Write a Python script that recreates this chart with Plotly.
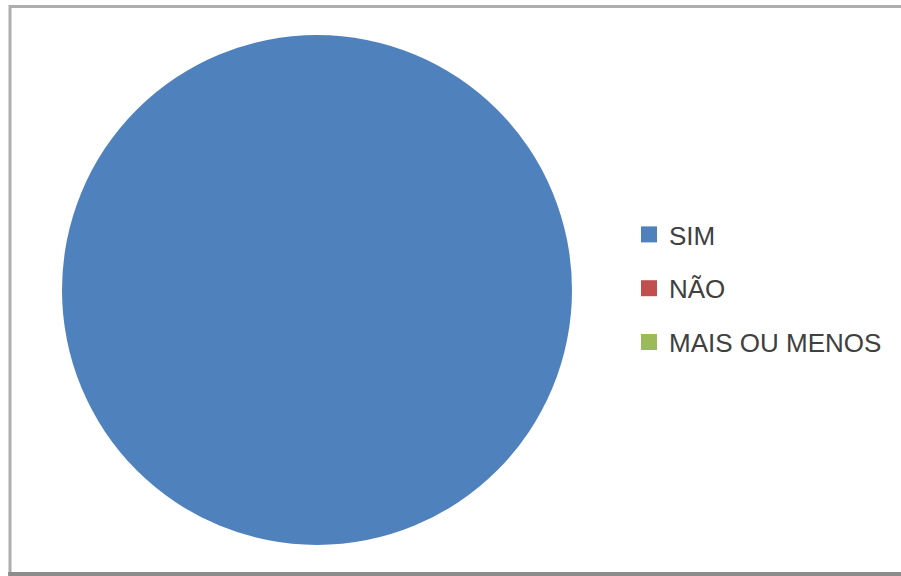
import plotly.graph_objects as go

# Survey answers and their share of responses
labels = ["SIM", "NÃO", "MAIS OU MENOS"]
values = [100, 0, 0]
colors = ["#4F81BD", "#C0504D", "#9BBB59"]

W, H = 901, 576

fig = go.Figure()

fig.add_trace(go.Pie(
    labels=labels,
    values=values,
    marker=dict(colors=colors, line=dict(width=0)),
    sort=False,
    direction="clockwise",
    rotation=0,
    textinfo="none",
    hoverinfo="label+percent",
    showlegend=False,
    domain=dict(x=[57 / W, 577 / W], y=[31 / H, 541 / H]),
))

# Legend entries, one group per answer so they can be spaced apart
for lab, col in zip(labels, colors):
    fig.add_trace(go.Scatter(
        x=[None], y=[None],
        mode="markers",
        name=lab,
        legendgroup=lab,
        marker=dict(symbol="square", size=18, color=col),
        showlegend=True,
        hoverinfo="skip",
    ))

fig.update_layout(
    width=W, height=H,
    margin=dict(l=0, r=0, t=0, b=0),
    paper_bgcolor="white",
    plot_bgcolor="white",
    xaxis=dict(visible=False),
    yaxis=dict(visible=False),
    font=dict(family="Liberation Sans, Arial, sans-serif", size=26, color="#404040"),
    legend=dict(
        x=629 / W, xanchor="left",
        y=(H - 211) / H, yanchor="top",
        traceorder="grouped",
        tracegroupgap=17,
        bgcolor="rgba(0,0,0,0)",
        itemclick=False,
        itemdoubleclick=False,
    ),
    shapes=[
        # chart frame
        dict(type="rect", xref="paper", yref="paper",
             x0=10 / W, x1=1.02, y0=(H - 574) / H, y1=(H - 6.5) / H,
             line=dict(color="#AEAEAE", width=3), layer="above"),
        dict(type="line", xref="paper", yref="paper",
             x0=0.009, x1=1.02, y0=(H - 574) / H, y1=(H - 574) / H,
             line=dict(color="#8C8C8C", width=4), layer="above"),
    ],
)

fig.write_html("out.html")
